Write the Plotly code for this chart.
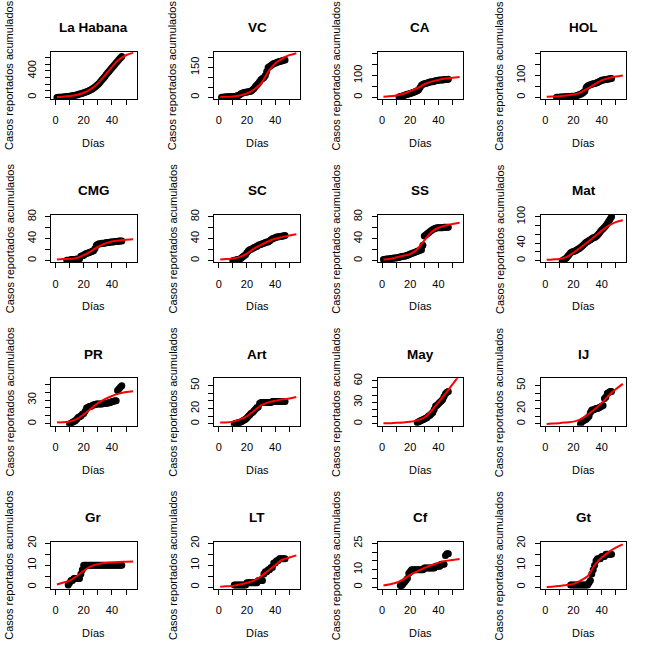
import plotly.graph_objects as go

# ---------------- data ----------------
provincias = ["La Habana", "VC", "CA", "HOL", "CMG", "SC", "SS", "Mat",
              "PR", "Art", "May", "IJ", "Gr", "LT", "Cf", "Gt"]

# days at which the fitted (red) curve was read
ajuste_dias = [1, 5, 10, 15, 20, 25, 30, 35, 40, 45, 50, 55]

# observed cumulative cases (daily, starting at the given first day)
habana_inicio = 1
habana_casos = [1, 2, 3, 4, 5, 7, 9, 11, 14, 17, 20, 24, 28, 33, 38, 44, 50, 56, 62, 70,
                78, 86, 95, 105, 115, 128, 142, 158, 175, 195, 215, 240, 265, 290, 315,
                345, 370, 395, 420, 445, 470, 495, 520, 545, 570, 595, 615]
habana_ajuste = [5, 10, 20, 38, 70, 125, 210, 330, 460, 570, 635, 670]

vc_inicio = 2
vc_casos = [1, 1, 2, 2, 3, 3, 4, 4, 5, 5, 6, 8, 10, 15, 20, 22, 25, 26, 27, 28, 30, 32, 38,
            45, 55, 62, 70, 80, 90, 95, 100, 110, 130, 150, 155, 160, 165, 170, 172, 175,
            178, 180, 182, 184, 186, 188]
vc_ajuste = [2, 3, 5, 10, 20, 40, 70, 128, 170, 195, 212, 222]

ca_inicio = 12
ca_casos = [2, 4, 6, 8, 10, 12, 14, 16, 18, 20, 22, 25, 28, 30, 35, 45, 55, 60, 62, 64, 66,
            68, 70, 71, 72, 74, 76, 77, 78, 79, 80, 80, 81, 82, 82, 83]
ca_ajuste = [3, 5, 9, 17, 29, 42, 60, 72, 80, 86, 90, 93]

hol_inicio = 8
hol_casos = [1, 1, 1, 2, 2, 2, 3, 3, 3, 4, 4, 5, 5, 6, 8, 10, 12, 15, 18, 22, 28, 45, 52,
             56, 58, 60, 62, 64, 66, 68, 72, 75, 78, 80, 81, 82, 83, 84, 85, 86]
hol_ajuste = [3, 4, 6, 9, 13, 22, 40, 60, 78, 88, 95, 100]

cmg_inicio = 8
cmg_casos = [1, 1, 1, 2, 2, 2, 2, 3, 3, 3, 8, 9, 10, 12, 13, 14, 15, 16, 17, 18, 22, 28, 30,
             31, 31, 32, 32, 32, 33, 33, 33, 34, 34, 34, 35, 35, 35, 36, 36, 36]
cmg_ajuste = [2, 3, 3, 5, 10, 17, 25, 31, 35, 37, 38, 39]

sc_inicio = 10
sc_casos = [0, 1, 1, 2, 2, 3, 5, 7, 9, 11, 15, 18, 20, 21, 22, 24, 25, 26, 28, 29, 30, 31,
            32, 33, 34, 34, 36, 38, 40, 41, 42, 43, 43, 44, 44, 45, 45, 46]
sc_ajuste = [2, 3, 4, 7, 13, 22, 29, 35, 40, 43, 46, 48]

ss_inicio = 1
ss_casos = [2, 2, 3, 3, 3, 4, 4, 5, 5, 5, 6, 6, 7, 7, 8, 8, 9, 10, 11, 12, 13, 14, 15, 16,
            17, 18, 19, 20, 28, 45, 47, 49, 51, 53, 55, 57, 58, 59, 60, 60, 60, 60, 60, 61,
            61, 61, 61]
ss_ajuste = [2, 3, 6, 9, 12, 21, 37, 52, 60, 64, 67, 69]

mat_inicio = 12
mat_casos = [0, 2, 4, 6, 10, 14, 18, 20, 21, 22, 24, 26, 28, 30, 33, 36, 39, 42, 44, 46, 48,
             50, 52, 53, 55, 58, 62, 66, 70, 73, 76, 80, 85, 90, 95, 100]
mat_ajuste = [2, 3, 4, 8, 18, 30, 42, 55, 68, 80, 88, 92]

pr_inicio = 10
pr_casos = [0, 1, 2, 3, 4, 6, 8, 9, 10, 12, 13, 16, 20, 21, 22, 22, 23, 24, 24, 25, 25, 25,
            25, 25, 26, 26, 26, 26, 27, 27, 28, 28, 29, 29, 42, 44, 46, 48]
pr_ajuste = [2, 2, 3, 6, 12, 19, 26, 31, 35, 38, 40, 41]

art_inicio = 11
art_casos = [0, 1, 1, 2, 2, 3, 4, 5, 6, 8, 10, 12, 14, 15, 17, 19, 21, 22, 27, 28, 28, 28,
             28, 28, 28, 28, 28, 29, 29, 29, 29, 29, 29, 29, 29, 29, 29]
art_ajuste = [2, 2, 3, 6, 10, 17, 24, 28, 30, 32, 33, 35]

may_inicio = 25
may_casos = [2, 3, 4, 5, 6, 7, 8, 9, 11, 12, 14, 16, 20, 25, 26, 28, 30, 32, 34, 38, 42, 44, 45]
may_ajuste = [1, 1, 1.5, 2, 3, 5, 9, 18, 30, 42, 55, 68]

ij_inicio = 25
ij_casos = [0, 3, 4, 5, 6, 8, 10, 15, 18, 18, 19, 20, 20, 21, 22, 23, 24, 33, 35, 40, 41, 42, 42]
ij_ajuste = [0, 0.5, 1, 2, 3, 6, 12, 19, 27, 37, 45, 52]

gr_inicio = 9
gr_casos = [1, 2, 3, 3, 4, 4, 4, 4, 4, 6, 8, 10, 10, 10, 10, 10, 10, 10, 10, 10, 10, 10, 10,
            10, 10, 10, 10, 10, 10, 10, 10, 10, 10, 10, 10, 10, 10, 10, 10]
gr_ajuste = [1.2, 2, 3, 5, 7.5, 9.5, 10.5, 11, 11.3, 11.5, 11.6, 11.7]

lt_inicio = 11
lt_casos = [1, 1, 1, 1, 1, 1, 1, 1, 1, 2, 2, 2, 2, 2, 2, 2, 2, 3, 3, 3, 3, 6, 7, 7, 8, 8, 9,
            9, 11, 11, 12, 12, 13, 13, 13, 13, 13]
lt_ajuste = [0.2, 0.4, 0.6, 1.2, 2, 3, 5, 7.5, 10, 12.5, 13.5, 14.5]

cf_inicio = 13
cf_casos = [1, 1, 2, 3, 4, 5, 8, 9, 10, 10, 10, 10, 10, 10, 10, 10, 10, 11, 11, 11, 11, 11,
            11, 11, 11, 12, 12, 12, 12, 13, 13, 13, 18, 19, 19]
cf_ajuste = [1, 1.5, 2.5, 4.5, 7, 9, 11, 12.5, 14, 15, 15.5, 16]

gt_inicio = 18
gt_casos = [1, 1, 1, 1, 1, 1, 1, 1, 1, 1, 1, 1, 1, 2, 3, 6, 8, 10, 12, 13, 13, 13, 14, 14,
            14, 15, 15, 15, 15, 15]
gt_ajuste = [0.1, 0.2, 0.5, 1, 1.5, 3, 5, 10, 13.5, 16, 18, 19.5]

inicios = [habana_inicio, vc_inicio, ca_inicio, hol_inicio, cmg_inicio, sc_inicio, ss_inicio,
           mat_inicio, pr_inicio, art_inicio, may_inicio, ij_inicio, gr_inicio, lt_inicio,
           cf_inicio, gt_inicio]
casos = [habana_casos, vc_casos, ca_casos, hol_casos, cmg_casos, sc_casos, ss_casos, mat_casos,
         pr_casos, art_casos, may_casos, ij_casos, gr_casos, lt_casos, cf_casos, gt_casos]
ajustes = [habana_ajuste, vc_ajuste, ca_ajuste, hol_ajuste, cmg_ajuste, sc_ajuste, ss_ajuste,
           mat_ajuste, pr_ajuste, art_ajuste, may_ajuste, ij_ajuste, gr_ajuste, lt_ajuste,
           cf_ajuste, gt_ajuste]

# axis settings
y_max = [660, 220, 200, 200, 80, 80, 80, 100, 55, 57, 61, 57, 20, 20, 25, 20]
y_paso = [100, 50, 50, 50, 20, 20, 20, 20, 10, 10, 10, 10, 5, 5, 5, 5]
y_etiquetas = [[0, 400], [0, 150], [0, 100], [0, 100], [0, 40, 80], [0, 40, 80], [0, 40, 80],
               [0, 40, 100], [0, 30], [0, 20, 50], [0, 30, 60], [0, 20, 50],
               [0, 10, 20], [0, 10, 20], [0, 10, 25], [0, 10, 20]]
y_tope = [600, 200, 200, 200, 80, 80, 80, 100, 50, 50, 60, 50, 20, 20, 25, 20]
x_ticks = [0, 10, 20, 30, 40, 50]
x_etiquetas = [0, 20, 40]

# ---------------- figure ----------------
W = 653.0
cell = W / 4
bx0, bx1, by0, by1 = 51.0, 136.6, 51.8, 99.2
FONT = "Liberation Sans, Arial, sans-serif"

fig = go.Figure()
layout = dict(width=653, height=653, autosize=False,
              margin=dict(l=0, r=0, t=0, b=0, pad=0),
              paper_bgcolor="white", plot_bgcolor="white",
              font=dict(family=FONT, color="black", size=11),
              showlegend=False)
annotations = []

for i, nombre in enumerate(provincias):
    r, c = divmod(i, 4)
    n = i + 1
    xa = "x" if n == 1 else f"x{n}"
    ya = "y" if n == 1 else f"y{n}"
    dias = list(range(inicios[i], inicios[i] + len(casos[i])))
    fig.add_trace(go.Scatter(x=dias, y=casos[i], mode="markers",
                             marker=dict(color="black", size=7),
                             xaxis=xa, yaxis=ya, hoverinfo="skip"))
    fig.add_trace(go.Scatter(x=ajuste_dias, y=ajustes[i], mode="lines",
                             line=dict(color="red", width=2, shape="spline", smoothing=0.8),
                             xaxis=xa, yaxis=ya, hoverinfo="skip"))

    x0 = (c * cell + bx0) / W
    x1 = (c * cell + bx1) / W
    ytop = 1 - (r * cell + by0) / W
    ybot = 1 - (r * cell + by1) / W

    yt = list(range(0, y_tope[i] + 1, y_paso[i]))
    ytt = [str(v) if v in y_etiquetas[i] else "" for v in yt]
    xtt = [str(v) if v in x_etiquetas else "" for v in x_ticks]

    common = dict(showline=True, mirror=True, linecolor="black", linewidth=1,
                  ticks="outside", ticklen=5, tickcolor="black", tickwidth=1,
                  showgrid=False, zeroline=False, automargin=False,
                  tickfont=dict(family=FONT, size=11, color="black"))
    layout["xaxis" if n == 1 else f"xaxis{n}"] = dict(
        domain=[x0, x1], anchor=ya, range=[-3.2, 57.5],
        tickmode="array", tickvals=x_ticks, ticktext=xtt,
        ticklabelstandoff=6, **common)
    ym = y_max[i]
    layout["yaxis" if n == 1 else f"yaxis{n}"] = dict(
        domain=[ybot, ytop], anchor=xa, range=[-0.04 * ym, 1.04 * ym],
        tickmode="array", tickvals=yt, ticktext=ytt, tickangle=-90,
        ticklabelstandoff=5, **common)

    cx = (c * cell + (bx0 + bx1) / 2) / W
    # title
    annotations.append(dict(text=f"<b>{nombre}</b>", x=cx, y=1 - (r * cell + 27.5) / W,
                            xref="paper", yref="paper", showarrow=False,
                            xanchor="center", yanchor="middle",
                            font=dict(family=FONT, size=13.5, color="black")))
    # x label
    annotations.append(dict(text="Días", x=cx, y=1 - (r * cell + 143) / W,
                            xref="paper", yref="paper", showarrow=False,
                            xanchor="center", yanchor="middle",
                            font=dict(family=FONT, size=11, color="black")))
    # y label
    annotations.append(dict(text="Casos reportados acumulados",
                            x=(c * cell + 9.5) / W, y=1 - (r * cell + (by0 + by1) / 2) / W,
                            xref="paper", yref="paper", showarrow=False, textangle=-90,
                            xanchor="center", yanchor="middle",
                            font=dict(family=FONT, size=11, color="black")))

layout["annotations"] = annotations
fig.update_layout(**layout)
fig.write_html("out.html",
               config={"displayModeBar": False},
               post_script="document.body.style.margin='0px';document.body.style.overflow='hidden';")
